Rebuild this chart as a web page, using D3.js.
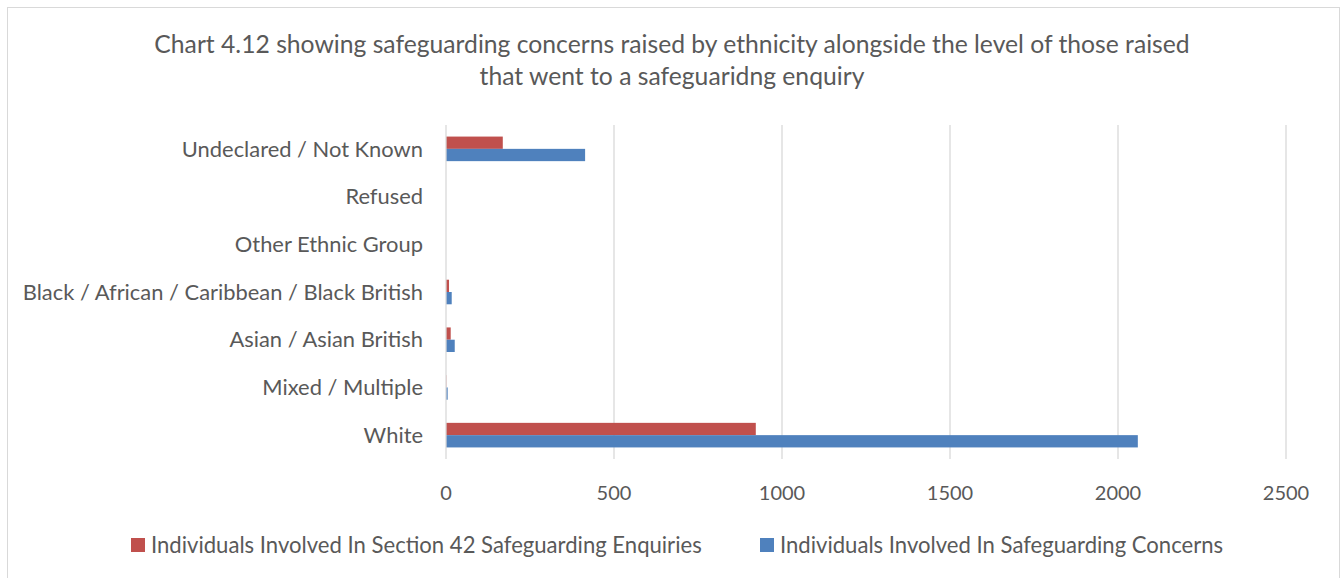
<!DOCTYPE html>
<html>
<head>
<meta charset="utf-8">
<script src="https://cdn.jsdelivr.net/npm/d3@7"></script>
<style>
  body { margin: 0; background: #fff; }
  text { font-family: Lato, "Open Sans", sans-serif; fill: #595959; }
</style>
</head>
<body>
<svg id="chart" width="1344" height="578"></svg>
<script>
// categories top to bottom
var categories = ["Undeclared / Not Known", "Refused", "Other Ethnic Group",
  "Black / African / Caribbean / Black British", "Asian / Asian British",
  "Mixed / Multiple", "White"];
var enquiries = [169, 0, 0, 9, 14, 1, 922];
var concerns = [414, 0, 0, 17, 26, 5, 2059];
var seriesNames = ["Individuals Involved In Section 42 Safeguarding Enquiries",
  "Individuals Involved In Safeguarding Concerns"];
var seriesColors = ["#C0504D", "#4F81BD"];
var xTicks = [0, 500, 1000, 1500, 2000, 2500];
var titleLines = ["Chart 4.12 showing safeguarding concerns raised by ethnicity alongside the level of those raised",
  "that went to a safeguaridng enquiry"];

var svg = d3.select("#chart");

// outer border
svg.append("rect")
  .attr("x", 7.5).attr("y", 7.5)
  .attr("width", 1332).attr("height", 580)
  .attr("fill", "none").attr("stroke", "#D9D9D9");

// title
svg.append("g").selectAll("text")
  .data(titleLines)
  .enter().append("text")
  .attr("x", 672)
  .attr("y", function(d, i) { return 53 + i * 32; })
  .attr("text-anchor", "middle")
  .style("font-size", "24.7px")
  .text(function(d) { return d; });

var plotL = 446, plotR = 1286, plotT = 125, plotB = 459;

var x = d3.scaleLinear().domain([0, 2500]).range([plotL, plotR]);
var y = d3.scaleBand().domain(categories).range([plotT, plotB]).paddingInner(0.485).paddingOuter(0.2425);
var sub = d3.scaleBand().domain([0, 1]).range([0, y.bandwidth()]);

// gridlines
svg.append("g").selectAll("line")
  .data(xTicks.slice(1))
  .enter().append("line")
  .attr("x1", function(d) { return x(d); })
  .attr("x2", function(d) { return x(d); })
  .attr("y1", plotT).attr("y2", plotB)
  .attr("stroke", "#D9D9D9").attr("stroke-width", 1.3);

// bars
var series = [enquiries, concerns];
series.forEach(function(vals, s) {
  svg.append("g").selectAll("rect")
    .data(vals)
    .enter().append("rect")
    .attr("x", x(0))
    .attr("y", function(d, i) { return y(categories[i]) + sub(s); })
    .attr("width", function(d) { return x(d) - x(0); })
    .attr("height", sub.bandwidth())
    .attr("fill", seriesColors[s]);
});

// vertical axis line
svg.append("line")
  .attr("x1", x(0)).attr("x2", x(0))
  .attr("y1", plotT).attr("y2", plotB)
  .attr("stroke", "#D9D9D9").attr("stroke-width", 1.3);

// category labels
svg.append("g").selectAll("text")
  .data(categories)
  .enter().append("text")
  .attr("x", 423)
  .attr("y", function(d) { return y(d) + y.bandwidth() / 2; })
  .attr("dy", "0.35em")
  .attr("text-anchor", "end")
  .style("font-size", "21.9px")
  .text(function(d) { return d; });

// x tick labels
svg.append("g").selectAll("text")
  .data(xTicks)
  .enter().append("text")
  .attr("x", function(d) { return x(d); })
  .attr("y", 493)
  .attr("dy", "0.35em")
  .attr("text-anchor", "middle")
  .style("font-size", "20px")
  .text(function(d) { return d; });

// legend
var legendX = [131, 760];
var legend = svg.append("g").selectAll("g")
  .data(seriesNames)
  .enter().append("g")
  .attr("transform", function(d, i) { return "translate(" + legendX[i] + ",545)"; });
legend.append("rect")
  .attr("x", 0).attr("y", -7)
  .attr("width", 14).attr("height", 14)
  .attr("fill", function(d, i) { return seriesColors[i]; });
legend.append("text")
  .attr("x", 20)
  .attr("dy", "0.35em")
  .style("font-size", "22.1px")
  .text(function(d) { return d; });
</script>
</body>
</html>
